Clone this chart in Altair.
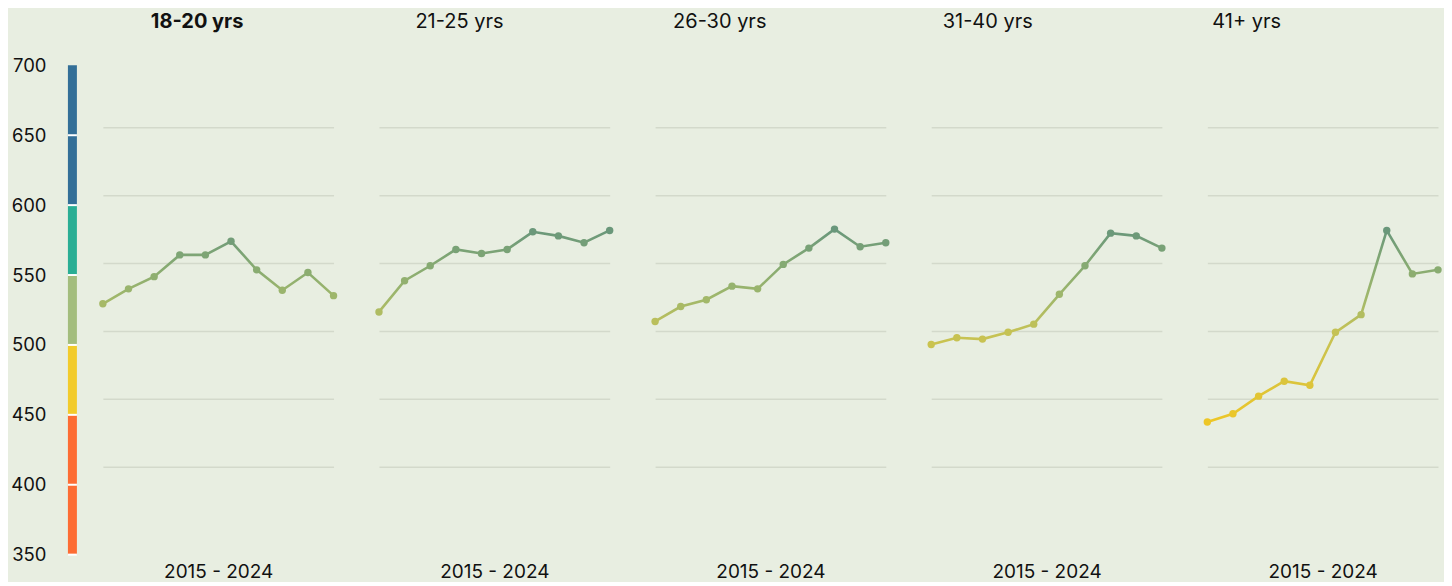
import altair as alt
import pandas as pd

# ---------------- data ----------------
years = list(range(2015, 2025))
groups = ["18-20 yrs", "21-25 yrs", "26-30 yrs", "31-40 yrs", "41+ yrs"]
scores_18_20 = [520, 531, 540, 556, 556, 566, 545, 530, 543, 526]
scores_21_25 = [514, 537, 548, 560, 557, 560, 573, 570, 565, 574]
scores_26_30 = [507, 518, 523, 533, 531, 549, 561, 575, 562, 565]
scores_31_40 = [490, 495, 494, 499, 505, 527, 548, 572, 570, 561]
scores_41_plus = [433, 439, 452, 463, 460, 499, 512, 574, 542, 545]
series = [scores_18_20, scores_21_25, scores_26_30, scores_31_40, scores_41_plus]

# score bands of the left colour key
band_lo = [350, 450, 500, 550, 600]
band_hi = [450, 500, 550, 600, 700]
band_colors = ["#fd6c33", "#f2cb2b", "#a3bd7d", "#2aae94", "#336f97"]
divider_vals = [350, 400, 450, 500, 550, 600, 650]
axis_label_vals = [350, 400, 450, 500, 550, 600, 650, 700]
grid_vals = [400, 450, 500, 550, 600, 650]

# line / point colour ramp
color_domain = [435, 500, 525, 550, 576]
color_range = ["#ecc628", "#c4c256", "#9fb76b", "#84a973", "#68967b"]

# ---------------- styles ----------------
BG = "#e8eee1"
FONT = "Inter"
TEXT = "#111111"
title_weights = ["bold", "normal", "normal", "normal", "normal"]
title_dx = [48, 36.5, 18, 11.5, 5]
NO_VIEW = alt.ViewBackground(stroke="transparent", strokeWidth=0)


def hex2rgb(h):
    return tuple(int(h[i:i + 2], 16) for i in (1, 3, 5))


def color_at(v):
    if v <= color_domain[0]:
        return color_range[0]
    if v >= color_domain[-1]:
        return color_range[-1]
    for i in range(len(color_domain) - 1):
        a, b = color_domain[i], color_domain[i + 1]
        if a <= v <= b:
            t = (v - a) / (b - a)
            c0, c1 = hex2rgb(color_range[i]), hex2rgb(color_range[i + 1])
            return "#%02x%02x%02x" % tuple(round(c0[k] + (c1[k] - c0[k]) * t) for k in range(3))
    return color_range[-1]


def gradient_for(vals):
    lo, hi = min(vals), max(vals)
    pts = [lo] + [d for d in color_domain if lo < d < hi] + [hi]
    stops = [alt.GradientStop(offset=(p - lo) / (hi - lo), color=color_at(p)) for p in pts]
    return alt.LinearGradient(gradient="linear", stops=stops, x1=0, x2=0, y1=1, y2=0)


def panel(i):
    df = pd.DataFrame({"year": years, "score": series[i]})
    base = alt.Chart(df)
    x = alt.X(
        "year:Q",
        scale=alt.Scale(domain=[2015, 2024], nice=False, zero=False),
        axis=alt.Axis(
            title="2015 - 2024", labels=False, ticks=False, domain=False, grid=False,
            titleFontSize=19, titleFontWeight="normal", titleColor=TEXT,
            titlePadding=28, titleFont=FONT,
        ),
    )
    y = alt.Y(
        "score:Q",
        scale=alt.Scale(domain=[350, 700], nice=False, zero=False),
        axis=alt.Axis(
            values=grid_vals, labels=False, ticks=False, domain=False, grid=True,
            gridColor="#d3d9cb", gridWidth=1.5, title=None,
        ),
    )
    line = base.mark_line(
        stroke=gradient_for(series[i]), strokeWidth=2.6, interpolate="linear"
    ).encode(x=x, y=y)
    pts = base.mark_circle(size=55, opacity=1).encode(
        x="year:Q",
        y="score:Q",
        color=alt.Color(
            "score:Q",
            scale=alt.Scale(domain=color_domain, range=color_range, interpolate="rgb"),
            legend=None,
        ),
    )
    return alt.layer(line, pts).properties(
        width=231,
        height=476,
        view=NO_VIEW,
        title=alt.TitleParams(
            text=groups[i], anchor="start", frame="group", dx=title_dx[i],
            fontSize=20, fontWeight=title_weights[i], font=FONT, color=TEXT,
            baseline="alphabetic", offset=11,
        ),
    )


bands = pd.DataFrame({"lo": band_lo, "hi": band_hi, "color": band_colors})
bar = alt.Chart(bands).mark_rect().encode(
    y=alt.Y(
        "lo:Q",
        scale=alt.Scale(domain=[350, 704.29], nice=False, zero=False),
        axis=alt.Axis(
            values=axis_label_vals, labelFontSize=18.5, labelPadding=22, ticks=False,
            domain=False, grid=False, title=None, labelColor=TEXT, labelFont=FONT,
            labelFlush=False, labelOverlap=False,
        ),
    ),
    y2="hi:Q",
    color=alt.Color("color:N", scale=None),
)
dividers = alt.Chart(pd.DataFrame({"v": divider_vals})).mark_rule(
    color="white", strokeWidth=2
).encode(y="v:Q")
bar_chart = alt.layer(bar, dividers).properties(width=9, height=496, view=NO_VIEW)

panels = alt.hconcat(*[panel(i) for i in range(5)], spacing=45.5, bounds="flush").resolve_scale(
    x="independent", y="independent"
)

chart = (
    alt.hconcat(bar_chart, panels, spacing=26, bounds="flush")
    .resolve_scale(y="independent")
    .properties(background=BG, padding={"left": 2, "top": 4, "right": 0, "bottom": 0})
    .configure_view(stroke="transparent", strokeWidth=0)
    .configure(font=FONT)
)

chart.save("out.html", embed_options={"renderer": "svg", "actions": False})
